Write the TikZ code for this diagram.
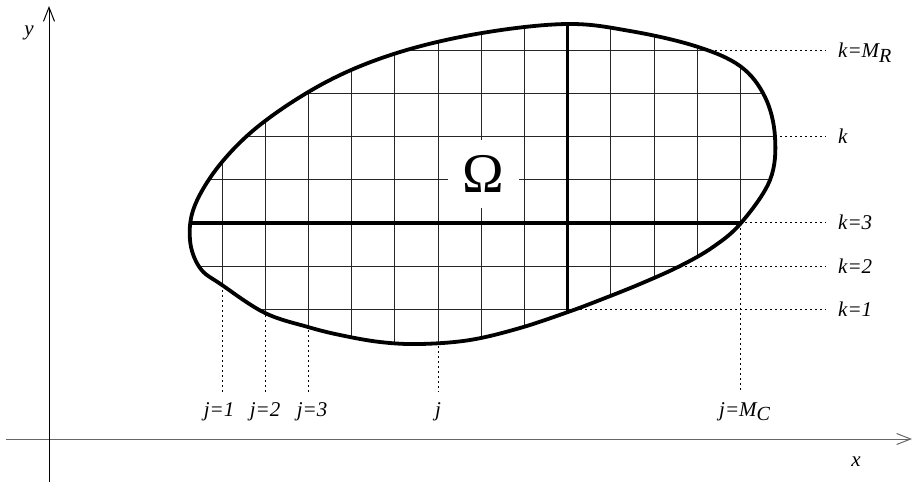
\documentclass[tikz,border=0pt]{standalone}
\usepackage{fontspec}
\setmainfont{Liberation Serif}
\usetikzlibrary{arrows.meta}
\begin{document}
\begin{tikzpicture}[x=1pt,y=-1pt,
  outline/.style={line width=3.8pt, line join=round},
  gridline/.style={line width=0.9pt, black!85},
  axisline/.style={line width=3.4pt},
  leader/.style={line width=0.7pt, dash pattern=on 1.8pt off 3.2pt},
  lbl/.style={font=\fontsize{21}{22}\selectfont\itshape, inner sep=0pt},
  axarrow/.style={line width=1pt, -{Straight Barb[length=14pt,width=11pt,line width=1pt]}},
]
\useasboundingbox (0,0) rectangle (917,482);
\def\blob{plot[smooth cycle, tension=0.6] coordinates {
 (567,24) (630,31) (695,46) (740,66) (765,97) (775,137) (770,180)
 (741,223) (713,247) (680,266) (640,284) (600,300) (568,312) (520,328)
 (470,340) (420,344) (380,342) (340,335) (308,327) (265,313) (222,285)
 (200,268) (190,240) (195,205) (222,162) (265,121) (330,80)
 (400,52) (482,33)}}

% axes
\coordinate (xs) at (6,439);
\coordinate (xe) at (912,439);
\coordinate (ys) at (49,482);
\coordinate (ye) at (49,6);
\draw[axarrow, black!60] (xs) -- (xe);
\draw[axarrow] (ys) -- (ye);
\node[lbl] (ylab) at (29,33) {y};
\node[lbl] (xlab) at (856,462) {x};

% leaders (start inside the blob, on grid lines)
\coordinate (sj1) at (222,275);
\coordinate (sj2) at (265.2,305);
\coordinate (sj3) at (308.4,320);
\coordinate (sj)  at (438,336);
\coordinate (sjm) at (740.4,222.8);
\coordinate (ej1) at (222,392);
\coordinate (ej2) at (265.2,392);
\coordinate (ej3) at (308.4,392);
\coordinate (ej)  at (438,392);
\coordinate (ejm) at (740.4,392);
\coordinate (skm) at (710,50);
\coordinate (skk) at (765,136.4);
\coordinate (sk3) at (735,222.8);
\coordinate (sk2) at (670,266);
\coordinate (sk1) at (560,309.2);
\coordinate (ekm) at (826,50);
\coordinate (ekk) at (826,136.4);
\coordinate (ek3) at (826,222.8);
\coordinate (ek2) at (826,266);
\coordinate (ek1) at (826,309.2);
\foreach \a/\b in {sj1/ej1,sj2/ej2,sj3/ej3,sj/ej,sjm/ejm,skm/ekm,skk/ekk,sk3/ek3,sk2/ek2,sk1/ek1}
  \draw[leader] (\a) -- (\b);

% grid clipped to the region
\begin{scope}
\clip \blob;
\fill[white] (150,0) rectangle (800,400);
\foreach \i in {0,...,12} \draw[gridline] ({222+43.2*\i},0) -- ({222+43.2*\i},400);
\foreach \k in {0,...,6} \draw[gridline] (150,{50+43.2*\k}) -- (800,{50+43.2*\k});
\draw[axisline] (150,222.8) -- (800,222.8);
\draw[axisline] (567.6,0) -- (567.6,400);
\end{scope}

\node[fill=white, minimum width=71pt, minimum height=68pt, inner sep=0pt,
      font=\fontsize{56}{56}\selectfont] (omega) at (483,174) {Ω};

\draw[outline] \blob;

% labels
\node[lbl, anchor=base] (lj1) at (219,416) {j=1};
\node[lbl, anchor=base] (lj2) at (265,416) {j=2};
\node[lbl, anchor=base] (lj3) at (312,416) {j=3};
\node[lbl, anchor=base] (lj)  at (438,416) {j};
\node[lbl, anchor=base west] (ljm) at (719,416) {j=M\raisebox{-4.5pt}{\fontsize{20}{20}\selectfont C}};
\node[lbl, anchor=base west] (lkm) at (838,57) {k=M\raisebox{-5pt}{\fontsize{20}{20}\selectfont R}};
\node[lbl, anchor=base west] (lkk) at (838,143.4) {k};
\node[lbl, anchor=base west] (lk3) at (838,229.8) {k=3};
\node[lbl, anchor=base west] (lk2) at (838,273) {k=2};
\node[lbl, anchor=base west] (lk1) at (838,316.2) {k=1};
\end{tikzpicture}
\end{document}
